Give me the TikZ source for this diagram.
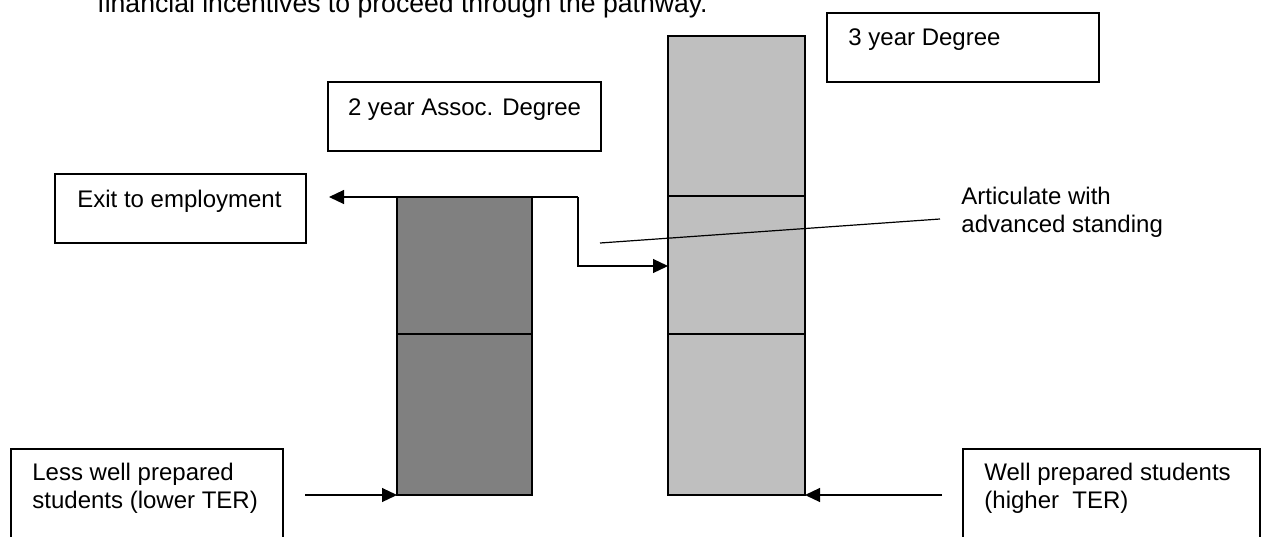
\documentclass[tikz,border=0pt]{standalone}
\usepackage{fontspec}
\setmainfont{Liberation Sans}
\usetikzlibrary{arrows.meta,positioning}

\begin{document}
\begin{tikzpicture}[x=0.5pt, y=-0.5pt,
        font=\fontsize{12pt}{13.8pt}\selectfont,
        box/.style={draw, line width=0.6pt, inner sep=0pt, outer sep=0pt, anchor=north west},
        words/.style={anchor=base west, inner sep=0pt, align=left},
        darkseg/.style={draw, line width=0.8pt, fill=black!50, minimum width=67.5pt, inner sep=0pt, outer sep=0pt},
        lightseg/.style={draw, line width=0.8pt, fill=black!25, minimum width=68.5pt, inner sep=0pt, outer sep=0pt},
        arr/.style={line width=0.6pt, -{Triangle[length=7.5pt,width=7pt]}}]
        \useasboundingbox (0,0) rectangle (1262,536);
        % last line of the text above, cut by the page
        \node[words, font=\fontsize{13.3pt}{16pt}\selectfont] (head) at (97,12) {financial incentives to proceed through the pathway.};
        % label boxes
        \node[box, minimum width=136pt, minimum height=34.5pt] (deg3) at (827,13) {};
        \node[words] (deg3txt) at ([shift={(21,32)}]deg3.north west) {3 year Degree};
        \node[box, minimum width=136.5pt, minimum height=34.5pt] (assoc) at (328,82) {};
        \node[words, anchor=base] (assoctxt) at ([shift={(0,33)}]assoc.north) {2 year Assoc. Degree};
        \node[box, minimum width=125.5pt, minimum height=34.5pt] (exit) at (55,174) {};
        \node[words] (exittxt) at ([shift={(22,33)}]exit.north west) {Exit to employment};
        \node[box, minimum width=136pt, minimum height=60pt] (less) at (11,449) {};
        \node[words] (lesstxt) at ([shift={(21,59)}]less.north west) {Less well prepared\\students (lower TER)};
        \node[box, minimum width=148.5pt, minimum height=60pt] (well) at (963,449) {};
        \node[words] (welltxt) at ([shift={(21,59)}]well.north west) {Well prepared students\\(higher~~TER)};
        \node[words] (artic) at (961,232) {Articulate with\\advanced standing};
        % exit and articulation route
        \coordinate (turn) at (578,197);
        \coordinate (drop) at (578,266);
        \draw[arr, shorten >=11.5pt] (turn) -- (turn -| exit.east);
        % the two degrees
        \node[darkseg, minimum height=80.5pt, anchor=south west] (lowA) at (397,495) {};
        \node[darkseg, minimum height=68.5pt, above=0pt of lowA] (upA) {};
        \node[lightseg, minimum height=80.5pt, anchor=south west] (botL) at (668,495) {};
        \node[lightseg, minimum height=69pt, above=0pt of botL] (midL) {};
        \node[lightseg, minimum height=80pt, above=0pt of midL] (topL) {};
        \draw[arr] (turn) -- (drop) -- (drop -| midL.west);
        % pointer to the label
        \coordinate (leadA) at (600,243);
        \coordinate (leadB) at (940,219);
        \draw[line width=0.6pt] (leadA) -- (leadB);
        % intakes
        \coordinate (lowin) at (305,495);
        \coordinate (highin) at (942,495);
        \draw[arr] (lowin) -- (lowA.south west);
        \draw[arr] (highin) -- (botL.south east);
    \end{tikzpicture}
\end{document}
